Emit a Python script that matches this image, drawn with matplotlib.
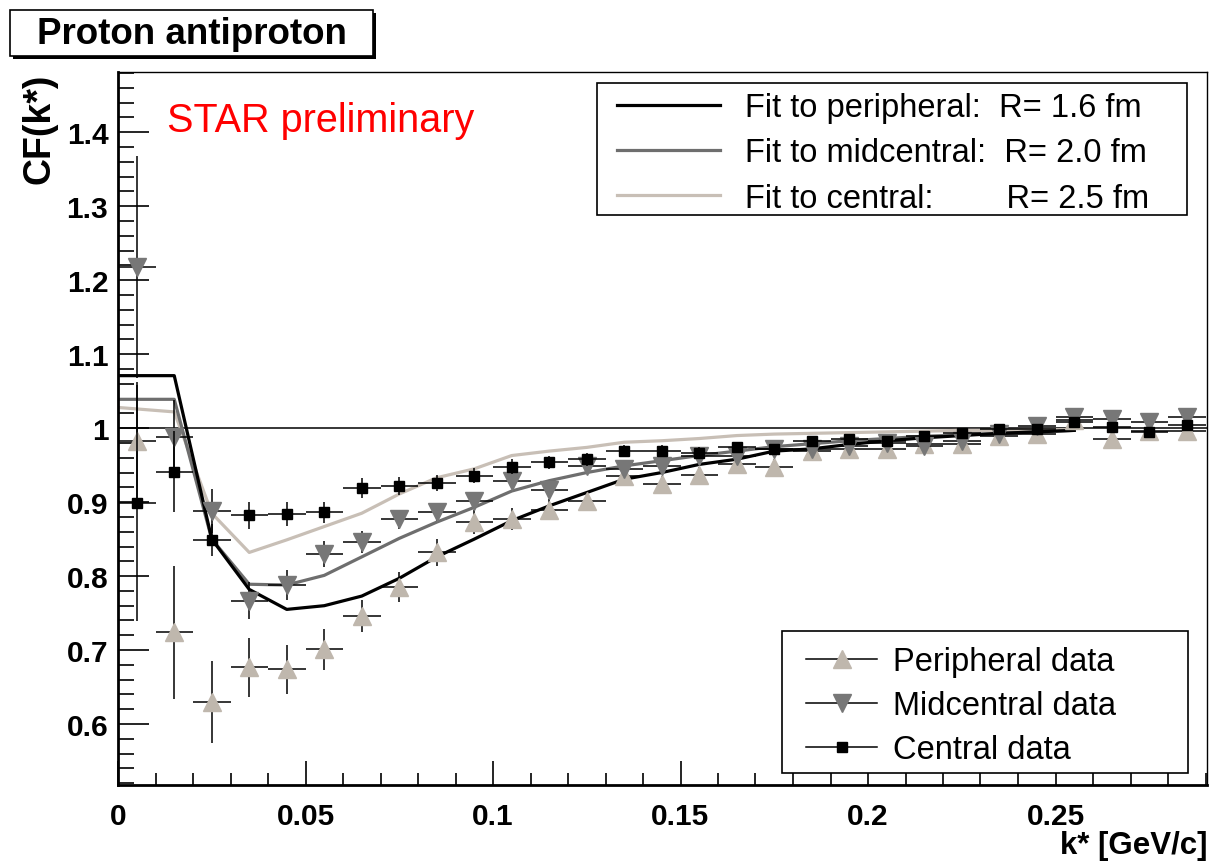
import matplotlib
matplotlib.use("Agg")
import matplotlib.pyplot as plt
from matplotlib.lines import Line2D
from matplotlib.patches import Rectangle
from matplotlib.legend_handler import HandlerTuple
from matplotlib.ticker import MultipleLocator, FixedLocator, FixedFormatter

# ---------------- data ----------------
k_data = [0.005, 0.015, 0.025, 0.035, 0.045, 0.055, 0.065, 0.075, 0.085, 0.095,
          0.105, 0.115, 0.125, 0.135, 0.145, 0.155, 0.165, 0.175, 0.185, 0.195,
          0.205, 0.215, 0.225, 0.235, 0.245, 0.255, 0.265, 0.275, 0.285]

peripheral = [0.983, 0.724, 0.630, 0.677, 0.674, 0.701, 0.746, 0.785, 0.832, 0.873,
              0.877, 0.890, 0.902, 0.935, 0.924, 0.937, 0.951, 0.948, 0.969, 0.972,
              0.972, 0.978, 0.978, 0.990, 0.992, 1.011, 0.985, 0.996, 0.996]
peripheral_err = [0.08, 0.09, 0.055, 0.040, 0.033, 0.028, 0.022, 0.020, 0.018, 0.016,
                  0.015, 0.014, 0.013, 0.012, 0.012, 0.011, 0.011, 0.010, 0.010, 0.010,
                  0.009, 0.009, 0.009, 0.009, 0.008, 0.008, 0.008, 0.008, 0.008]

midcentral = [1.218, 0.988, 0.888, 0.767, 0.788, 0.830, 0.846, 0.877, 0.886, 0.902,
              0.929, 0.917, 0.949, 0.945, 0.949, 0.962, 0.963, 0.972, 0.972, 0.976,
              0.980, 0.976, 0.983, 0.992, 1.003, 1.015, 1.012, 1.009, 1.015]
midcentral_err = [0.15, 0.05, 0.030, 0.025, 0.020, 0.018, 0.015, 0.013, 0.012, 0.011,
                  0.010, 0.010, 0.009, 0.009, 0.009, 0.008, 0.008, 0.008, 0.008, 0.007,
                  0.007, 0.007, 0.007, 0.007, 0.007, 0.007, 0.007, 0.007, 0.007]

central = [0.899, 0.941, 0.849, 0.882, 0.884, 0.886, 0.919, 0.922, 0.926, 0.936,
           0.948, 0.954, 0.958, 0.969, 0.969, 0.966, 0.974, 0.972, 0.983, 0.985,
           0.983, 0.990, 0.993, 0.999, 0.999, 1.008, 1.001, 0.995, 1.004]
central_err = [0.16, 0.055, 0.022, 0.018, 0.016, 0.014, 0.013, 0.012, 0.011, 0.010,
               0.010, 0.009, 0.009, 0.008, 0.008, 0.008, 0.007, 0.007, 0.007, 0.007,
               0.006, 0.006, 0.006, 0.006, 0.006, 0.006, 0.006, 0.006, 0.006]
k_halfwidth = 0.005

k_fit = [0.0, 0.005, 0.015, 0.025, 0.035, 0.045, 0.055, 0.065, 0.075, 0.085, 0.095,
         0.105, 0.115, 0.125, 0.135, 0.145, 0.155, 0.165, 0.175, 0.185, 0.195,
         0.205, 0.215, 0.225, 0.235, 0.245, 0.255]
fit_peripheral = [1.071, 1.071, 1.071, 0.850, 0.782, 0.755, 0.760, 0.773, 0.797, 0.826, 0.850,
                  0.875, 0.895, 0.913, 0.931, 0.940, 0.951, 0.958, 0.969, 0.972, 0.978,
                  0.983, 0.987, 0.990, 0.993, 0.995, 0.997]
fit_midcentral = [1.039, 1.039, 1.039, 0.850, 0.789, 0.788, 0.801, 0.826, 0.851, 0.873, 0.893,
                  0.915, 0.929, 0.940, 0.949, 0.956, 0.963, 0.969, 0.975, 0.979, 0.983,
                  0.986, 0.989, 0.991, 0.993, 0.995, 0.997]
fit_central = [1.028, 1.026, 1.022, 0.885, 0.832, 0.849, 0.867, 0.885, 0.911, 0.933, 0.945,
               0.963, 0.969, 0.974, 0.981, 0.983, 0.986, 0.990, 0.992, 0.993, 0.994,
               0.995, 0.996, 0.997, 0.997, 0.998, 0.998]

fit_labels = ["Fit to peripheral:  R= 1.6 fm",
              "Fit to midcentral:  R= 2.0 fm",
              "Fit to central:        R= 2.5 fm"]
data_labels = ["Peripheral data", "Midcentral data", "Central data"]

xtick_vals = [0, 0.05, 0.1, 0.15, 0.2, 0.25]
xtick_labels = ["0", "0.05", "0.1", "0.15", "0.2", "0.25"]
ytick_vals = [0.6, 0.7, 0.8, 0.9, 1.0, 1.1, 1.2, 1.3, 1.4]
ytick_labels = ["0.6", "0.7", "0.8", "0.9", "1", "1.1", "1.2", "1.3", "1.4"]

# ---------------- styling ----------------
C_PER = "#bfb7ad"
C_MID = "#777777"
C_CEN = "#000000"
C_FIT_PER = "#000000"
C_FIT_MID = "#6e6e6e"
C_FIT_CEN = "#c8bfb6"

W, H = 1212, 862
fig = plt.figure(figsize=(W / 100, H / 100), dpi=100)
L, R, T, B = 118, 1207, 73, 786
ax = fig.add_axes([L / W, 1 - B / H, (R - L) / W, (B - T) / H])
ax.set_xlim(0, 0.2904)
ax.set_ylim(0.5176, 1.4815)

BOLD = dict(family="Liberation Sans", weight="bold")

def fx(px):
    return (px - L) / (R - L)

def fy(py):
    return (B - py) / (B - T)

def box(x0, y0, x1, y1):
    r = Rectangle((fx(x0), fy(y1)), fx(x1) - fx(x0), fy(y0) - fy(y1),
                  transform=ax.transAxes, fc="white", ec="black", lw=1.2, zorder=8)
    ax.add_patch(r)

# reference line at 1
ax.axhline(1.0, color="black", lw=1.1, zorder=1)

# fits
ax.plot(k_fit, fit_central, color=C_FIT_CEN, lw=2.3, zorder=2)
ax.plot(k_fit, fit_midcentral, color=C_FIT_MID, lw=2.3, zorder=2)
ax.plot(k_fit, fit_peripheral, color=C_FIT_PER, lw=2.3, zorder=2)

# data
ekw = dict(ecolor="black", elinewidth=1.1, capsize=0, ls="none")
ax.errorbar(k_data, peripheral, yerr=peripheral_err, xerr=k_halfwidth,
            marker="^", ms=13, mfc=C_PER, mec=C_PER, zorder=3, **ekw)
ax.errorbar(k_data, midcentral, yerr=midcentral_err, xerr=k_halfwidth,
            marker="v", ms=13, mfc=C_MID, mec=C_MID, zorder=4, **ekw)
ax.errorbar(k_data, central, yerr=central_err, xerr=k_halfwidth,
            marker="s", ms=6.5, mfc=C_CEN, mec=C_CEN, zorder=5, **ekw)

# axes / ticks
for s in ["top", "right"]:
    ax.spines[s].set_linewidth(1.0)
for s in ["left", "bottom"]:
    ax.spines[s].set_linewidth(2.0)
ax.xaxis.set_major_locator(FixedLocator(xtick_vals))
ax.xaxis.set_major_formatter(FixedFormatter(xtick_labels))
ax.xaxis.set_minor_locator(MultipleLocator(0.01))
ax.yaxis.set_major_locator(FixedLocator(ytick_vals))
ax.yaxis.set_major_formatter(FixedFormatter(ytick_labels))
ax.yaxis.set_minor_locator(MultipleLocator(0.02))
ax.tick_params(axis="both", which="both", direction="in", top=False, right=False,
               color="black")
ax.tick_params(axis="y", which="major", length=22, width=1.2, pad=7)
ax.tick_params(axis="y", which="minor", length=11.5, width=1.2)
ax.tick_params(axis="x", which="major", length=17, width=1.2, pad=12)
ax.tick_params(axis="x", which="minor", length=8.5, width=1.2)
for lab in ax.get_xticklabels() + ax.get_yticklabels():
    lab.set_fontfamily("Liberation Sans")
    lab.set_fontweight("bold")
    lab.set_fontsize(21.5)

# axis titles
fig.text(40 / W, 1 - 74 / H, "CF(k*)", rotation=90, ha="center", va="top",
         fontsize=27, **BOLD)
fig.text(1207 / W, 1 - 846 / H, "k* [GeV/c]", ha="right", va="center",
         fontsize=22.5, **BOLD)

# STAR preliminary
ax.text(fx(167), fy(121), "STAR preliminary", color="#ff0000",
        fontsize=28.5, family="Liberation Sans", ha="left", va="center",
        transform=ax.transAxes)

# title box with shadow
x0, y0, x1, y1 = 10, 11, 373, 57
sh = 3
fig.add_artist(Rectangle(((x0 + sh) / W, 1 - (y1 + sh) / H), (x1 - x0) / W, (y1 - y0) / H,
                         transform=fig.transFigure, fc="black", ec="black", lw=0))
fig.add_artist(Rectangle((x0 / W, 1 - y1 / H), (x1 - x0) / W, (y1 - y0) / H,
                         transform=fig.transFigure, fc="white", ec="black", lw=1.2))
fig.text((x0 + x1) / 2 / W, 1 - (y0 + y1) / 2 / H, "Proton antiproton",
         ha="center", va="center", fontsize=26.5, **BOLD)

# legend: fits
box(597, 84, 1187, 216)
fit_handles = [Line2D([], [], color=C_FIT_PER, lw=2.3),
               Line2D([], [], color=C_FIT_MID, lw=2.3),
               Line2D([], [], color=C_FIT_CEN, lw=2.3)]
leg1 = ax.legend(fit_handles, fit_labels, loc="upper left",
                 bbox_to_anchor=(fx(617), fy(93)),
                 borderaxespad=0, frameon=False,
                 prop=dict(family="Liberation Sans", size=23.5),
                 handlelength=3.16, handletextpad=0.77, labelspacing=0.44,
                 borderpad=0)
leg1.set_zorder(9)
ax.add_artist(leg1)

# legend: data
box(782, 632, 1188, 774)
def dh(marker, col, ms):
    return (Line2D([], [], color="black", lw=1.1),
            Line2D([], [], marker=marker, color=col, ls="none", ms=ms))

data_handles = [dh("^", C_PER, 13), dh("v", C_MID, 13), dh("s", C_CEN, 6.5)]
leg2 = ax.legend(data_handles, data_labels, loc="upper left",
                 bbox_to_anchor=(fx(806), fy(647)),
                 borderaxespad=0, frameon=False,
                 prop=dict(family="Liberation Sans", size=23.5),
                 handlelength=2.18, handletextpad=0.5, labelspacing=0.4,
                 borderpad=0, handler_map={tuple: HandlerTuple(ndivide=1)})
leg2.set_zorder(9)

fig.savefig("out.png", dpi=100)
